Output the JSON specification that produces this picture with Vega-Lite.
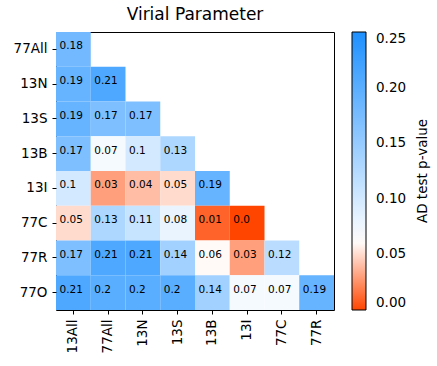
{
  "$schema": "https://vega.github.io/schema/vega-lite/v6.json",
  "width": 278,
  "height": 278,
  "autosize": {"type": "none"},
  "padding": {"left": 56, "top": 32, "right": 103, "bottom": 56},
  "title": {"text": "Virial Parameter", "font": "DejaVu Sans", "fontSize": 17, "fontWeight": "normal", "color": "black", "offset": 8},
  "data": {"values": [
    {"row": "77All", "col": "13All", "value": 0.18, "label": "0.18"},
    {"row": "13N", "col": "13All", "value": 0.19, "label": "0.19"},
    {"row": "13N", "col": "77All", "value": 0.21, "label": "0.21"},
    {"row": "13S", "col": "13All", "value": 0.19, "label": "0.19"},
    {"row": "13S", "col": "77All", "value": 0.17, "label": "0.17"},
    {"row": "13S", "col": "13N", "value": 0.17, "label": "0.17"},
    {"row": "13B", "col": "13All", "value": 0.17, "label": "0.17"},
    {"row": "13B", "col": "77All", "value": 0.07, "label": "0.07"},
    {"row": "13B", "col": "13N", "value": 0.1, "label": "0.1"},
    {"row": "13B", "col": "13S", "value": 0.13, "label": "0.13"},
    {"row": "13I", "col": "13All", "value": 0.1, "label": "0.1"},
    {"row": "13I", "col": "77All", "value": 0.03, "label": "0.03"},
    {"row": "13I", "col": "13N", "value": 0.04, "label": "0.04"},
    {"row": "13I", "col": "13S", "value": 0.05, "label": "0.05"},
    {"row": "13I", "col": "13B", "value": 0.19, "label": "0.19"},
    {"row": "77C", "col": "13All", "value": 0.05, "label": "0.05"},
    {"row": "77C", "col": "77All", "value": 0.13, "label": "0.13"},
    {"row": "77C", "col": "13N", "value": 0.11, "label": "0.11"},
    {"row": "77C", "col": "13S", "value": 0.08, "label": "0.08"},
    {"row": "77C", "col": "13B", "value": 0.01, "label": "0.01"},
    {"row": "77C", "col": "13I", "value": 0.0, "label": "0.0"},
    {"row": "77R", "col": "13All", "value": 0.17, "label": "0.17"},
    {"row": "77R", "col": "77All", "value": 0.21, "label": "0.21"},
    {"row": "77R", "col": "13N", "value": 0.21, "label": "0.21"},
    {"row": "77R", "col": "13S", "value": 0.14, "label": "0.14"},
    {"row": "77R", "col": "13B", "value": 0.06, "label": "0.06"},
    {"row": "77R", "col": "13I", "value": 0.03, "label": "0.03"},
    {"row": "77R", "col": "77C", "value": 0.12, "label": "0.12"},
    {"row": "77O", "col": "13All", "value": 0.21, "label": "0.21"},
    {"row": "77O", "col": "77All", "value": 0.2, "label": "0.2"},
    {"row": "77O", "col": "13N", "value": 0.2, "label": "0.2"},
    {"row": "77O", "col": "13S", "value": 0.2, "label": "0.2"},
    {"row": "77O", "col": "13B", "value": 0.14, "label": "0.14"},
    {"row": "77O", "col": "13I", "value": 0.07, "label": "0.07"},
    {"row": "77O", "col": "77C", "value": 0.07, "label": "0.07"},
    {"row": "77O", "col": "77R", "value": 0.19, "label": "0.19"}
  ]},
  "encoding": {
    "x": {"field": "col", "type": "ordinal", "sort": ["13All","77All","13N","13S","13B","13I","77C","77R"], "scale": {"paddingInner": 0, "paddingOuter": 0}, "axis": {"title": null, "labelAngle": -90, "orient": "bottom"}},
    "y": {"field": "row", "type": "ordinal", "sort": ["77All","13N","13S","13B","13I","77C","77R","77O"], "scale": {"paddingInner": 0, "paddingOuter": 0}, "axis": {"title": null}}
  },
  "layer": [
    {
      "mark": {"type": "rect"},
      "encoding": {
        "color": {"field": "value", "type": "quantitative",
          "scale": {"domain": [0, 0.062, 0.25], "range": ["#ff4500", "#ffffff", "#1e90ff"], "interpolate": "rgb"},
          "legend": {"title": "AD test p-value", "values": [0, 0.05, 0.1, 0.15, 0.2, 0.25], "format": ".2f", "gradientLength": 278, "gradientThickness": 14, "offset": 18, "gradientStrokeColor": "black", "gradientStrokeWidth": 1, "titleOrient": "right", "titleAnchor": "middle", "titleFontSize": 13.5, "titleFontWeight": "normal", "titleFont": "DejaVu Sans", "titleColor": "black", "labelFontSize": 13.5, "labelFont": "DejaVu Sans", "labelColor": "black", "labelOffset": 10, "titlePadding": 10,
            "encode": {"title": {"update": {"angle": {"value": -90}, "baseline": {"value": "top"}}}}}
        }
      }
    },
    {
      "mark": {"type": "text", "align": "left", "baseline": "alphabetic", "dx": -13.9, "font": "DejaVu Sans", "fontSize": 10.5, "color": "black"},
      "encoding": {"text": {"field": "label", "type": "nominal"}}
    }
  ],
  "config": {
    "view": {"stroke": "black", "strokeWidth": 1},
    "axis": {"domain": false, "grid": false, "tickColor": "black", "tickSize": 4, "labelColor": "black", "labelFont": "DejaVu Sans", "labelFontSize": 13.5, "labelPadding": 5},
    "font": "DejaVu Sans"
  }
}
